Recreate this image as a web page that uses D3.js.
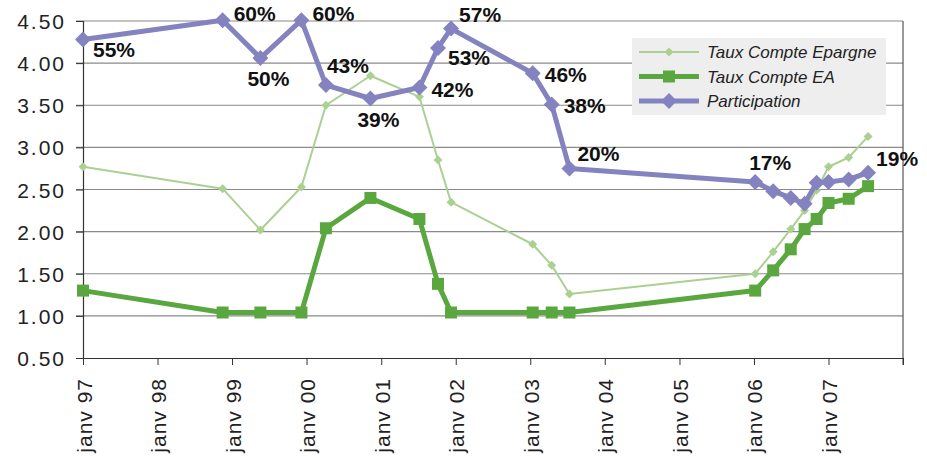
<!DOCTYPE html>
<html lang="fr">
    <head>
        <meta charset="utf-8">
        <title>Taux et participation</title>
        <script type="text/javascript" src="https://d3js.org/d3.v7.min.js"></script>
        <style>
            body {
                margin: 0;
                background: #fff;
            }
            svg text {
                font-family: "Liberation Sans", Arial, sans-serif;
                fill: #222;
            }
            .axis text {
                font-size: 21px;
                letter-spacing: 2px;
            }
            .x.axis text {
                letter-spacing: 1px;
            }
            .label {
                font-size: 21px;
                font-weight: bold;
                fill: #111;
            }
            .legend text {
                font-size: 17px;
                font-style: italic;
            }
        </style>
    </head>
    <body>
        <script>
            // data
            const dates = ["1997-01-01", "1998-11-16", "1999-05-20", "1999-12-07", "2000-04-05",
                           "2000-11-09", "2001-07-07", "2001-10-06", "2001-12-09", "2003-01-13",
                           "2003-04-16", "2003-07-12", "2006-01-07", "2006-04-05", "2006-06-30",
                           "2006-09-06", "2006-11-04", "2007-01-01", "2007-04-10", "2007-07-14"];
            const tauxEpargne = [2.77, 2.51, 2.02, 2.53, 3.50, 3.85, 3.60, 2.85, 2.35, 1.85,
                                 1.60, 1.26, 1.50, 1.76, 2.03, 2.25, 2.49, 2.77, 2.88, 3.13];
            const tauxEA = [1.30, 1.04, 1.04, 1.04, 2.04, 2.40, 2.15, 1.38, 1.04, 1.04,
                            1.04, 1.04, 1.30, 1.54, 1.79, 2.03, 2.15, 2.34, 2.39, 2.54];
            const participation = [4.28, 4.51, 4.06, 4.51, 3.74, 3.58, 3.71, 4.18, 4.41, 3.88,
                                   3.51, 2.75, 2.59, 2.48, 2.40, 2.33, 2.58, 2.59, 2.62, 2.70];
            const participationLabels = ["55%", "60%", "50%", "60%", "43%", "39%", "42%", "53%", "57%", "46%",
                                         "38%", "20%", "17%", "", "", "", "", "", "", "19%"];
            // where each label sits next to its point
            const labelPlacement = ["lowright", "upright", "below", "upright", "upper", "below", "right", "lowright", "aboveright", "right",
                                    "right", "aboveright", "above", "", "", "", "", "", "", "aboveright"];
            const yTicks = [0.5, 1.0, 1.5, 2.0, 2.5, 3.0, 3.5, 4.0, 4.5];
            const xTickYears = [1997, 1998, 1999, 2000, 2001, 2002, 2003, 2004, 2005, 2006, 2007, 2008];
            const seriesNames = ["Taux Compte Epargne", "Taux Compte EA", "Participation"];

            const w = 927;
            const h = 456;
            const margin = {left: 83, right: 24, top: 21, bottom: 98};

            const parse = d3.timeParse("%Y-%m-%d");
            const dateObjs = dates.map(parse);

            const svg = d3.select("body")
                        .append("svg")
                        .attr("width", w)
                        .attr("height", h);

            const xScale = d3.scaleTime()
                            .domain([new Date(1997, 0, 1), new Date(2008, 0, 1)])
                            .range([margin.left, w - margin.right]);
            const yScale = d3.scaleLinear()
                            .domain([0.5, 4.5])
                            .range([h - margin.bottom, margin.top]);

            // gridlines
            svg.append("g")
                .selectAll("line")
                .data(yTicks.slice(1))
                .enter()
                .append("line")
                .attr("x1", margin.left - 7)
                .attr("x2", w - margin.right)
                .attr("y1", d => yScale(d))
                .attr("y2", d => yScale(d))
                .attr("stroke", "#8a8a8a")
                .attr("stroke-width", 1.2);

            // right border
            svg.append("line")
                .attr("x1", w - margin.right).attr("x2", w - margin.right)
                .attr("y1", margin.top).attr("y2", h - margin.bottom + 7)
                .attr("stroke", "#555").attr("stroke-width", 1.2);

            // axes
            const yAxis = d3.axisLeft(yScale)
                            .tickValues(yTicks)
                            .tickFormat(d3.format(".2f"))
                            .tickSize(7)
                            .tickPadding(10);
            svg.append("g")
                .attr("class", "y axis")
                .attr("transform", `translate(${margin.left},0)`)
                .call(yAxis)
                .call(g => g.select(".domain").attr("stroke", "#333").attr("stroke-width", 1.2))
                .call(g => g.selectAll(".tick line").attr("stroke", "#333"))
                .call(g => g.selectAll("text").attr("fill", "#222").attr("dy", "0.36em"));

            const xAxis = d3.axisBottom(xScale)
                            .tickValues(xTickYears.map(y => new Date(y, 0, 1)))
                            .tickFormat(d => d.getFullYear() === 2008 ? "" : "janv " + d3.timeFormat("%y")(d))
                            .tickSize(7)
                            .tickSizeOuter(0);
            svg.append("g")
                .attr("class", "x axis")
                .attr("transform", `translate(0,${h - margin.bottom})`)
                .call(xAxis)
                .call(g => g.select(".domain").attr("stroke", "#333").attr("stroke-width", 1.2))
                .call(g => g.selectAll(".tick line").attr("stroke", "#333"))
                .call(g => g.selectAll("text")
                    .attr("fill", "#222")
                    .attr("text-anchor", "end")
                    .attr("dy", null)
                    .attr("x", 0).attr("y", 0)
                    .attr("transform", "translate(8,20) rotate(-90)"));

            // series
            const series = [
                {name: seriesNames[0], values: tauxEpargne, color: "#abd192", width: 2, marker: "diamond", size: 9},
                {name: seriesNames[1], values: tauxEA, color: "#5ba73f", width: 5, marker: "square", size: 12},
                {name: seriesNames[2], values: participation, color: "#8483bf", width: 5, marker: "diamond", size: 16}
            ];

            function markerPath(type, s) {
                const r = s / 2;
                if (type === "square") return `M${-r},${-r}H${r}V${r}H${-r}Z`;
                return `M0,${-r}L${r},0L0,${r}L${-r},0Z`;
            }

            const line = d3.line()
                        .x((d, i) => xScale(dateObjs[i]))
                        .y(d => yScale(d));

            series.forEach(function(s) {
                const g = svg.append("g");
                g.append("path")
                    .attr("d", line(s.values))
                    .attr("fill", "none")
                    .attr("stroke", s.color)
                    .attr("stroke-width", s.width)
                    .attr("stroke-linejoin", "round");
                g.selectAll("path.marker")
                    .data(s.values)
                    .enter()
                    .append("path")
                    .attr("class", "marker")
                    .attr("transform", (d, i) => `translate(${xScale(dateObjs[i])},${yScale(d)})`)
                    .attr("d", markerPath(s.marker, s.size))
                    .attr("fill", s.color);
            });

            // data labels for participation
            const offsets = {
                right: {dx: 12, dy: 9, anchor: "start"},
                upright: {dx: 11, dy: 1, anchor: "start"},
                lowright: {dx: 10, dy: 17, anchor: "start"},
                aboveright: {dx: 8, dy: -7, anchor: "start"},
                upper: {dx: 1, dy: -12, anchor: "start"},
                above: {dx: 15, dy: -12, anchor: "middle"},
                below: {dx: 8, dy: 28, anchor: "middle"}
            };
            const labelData = participation
                .map((v, i) => ({date: dateObjs[i], value: v, text: participationLabels[i], pos: labelPlacement[i]}))
                .filter(d => d.text !== "");
            svg.append("g")
                .selectAll("text")
                .data(labelData)
                .enter()
                .append("text")
                .attr("class", "label")
                .attr("x", d => xScale(d.date) + offsets[d.pos].dx)
                .attr("y", d => yScale(d.value) + offsets[d.pos].dy)
                .attr("text-anchor", d => offsets[d.pos].anchor)
                .text(d => d.text);

            // legend
            const legend = svg.append("g")
                .attr("class", "legend")
                .attr("transform", "translate(632,38)");
            legend.append("rect")
                .attr("width", 254)
                .attr("height", 77)
                .attr("fill", "#eeeeee");
            series.forEach(function(s, i) {
                const y = 14 + i * 24.5;
                legend.append("line")
                    .attr("x1", 7).attr("x2", 67)
                    .attr("y1", y).attr("y2", y)
                    .attr("stroke", s.color)
                    .attr("stroke-width", s.width);
                legend.append("path")
                    .attr("transform", `translate(37,${y})`)
                    .attr("d", markerPath(s.marker, s.size))
                    .attr("fill", s.color);
                legend.append("text")
                    .attr("x", 75)
                    .attr("y", y + 6)
                    .text(s.name);
            });
        </script>
    </body>
</html>
